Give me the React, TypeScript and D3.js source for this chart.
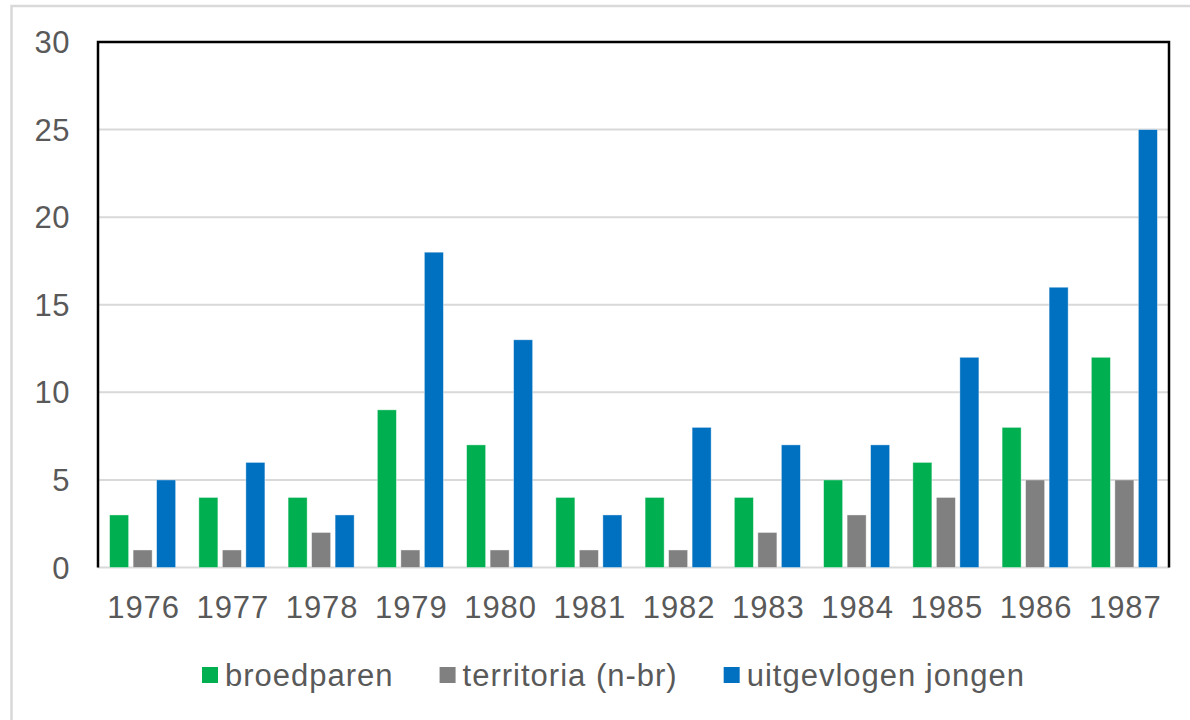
import React, { useEffect, useRef } from 'react';
import * as d3 from 'd3';

const years = ['1976', '1977', '1978', '1979', '1980', '1981', '1982', '1983', '1984', '1985', '1986', '1987'];
const seriesNames = ['broedparen', 'territoria (n-br)', 'uitgevlogen jongen'];
const broedparen = [3, 4, 4, 9, 7, 4, 4, 4, 5, 6, 8, 12];
const territoria = [1, 1, 2, 1, 1, 1, 1, 2, 3, 4, 5, 5];
const uitgevlogen = [5, 6, 3, 18, 13, 3, 8, 7, 7, 12, 16, 25];
const yTicks = [0, 5, 10, 15, 20, 25, 30];
const colors = ['#00B050', '#808080', '#0070C0'];

const App = () => {
  const svgRef = useRef<SVGSVGElement>(null);

  useEffect(() => {
    const svg = d3.select(svgRef.current);
    svg.selectAll('*').remove();

    const W = 1190, H = 720;
    const left = 98, right = 1169, top = 42, bottom = 567.5;
    const font = '"Liberation Sans", Arial, sans-serif';
    const textColor = '#595959';

    svg.append('rect').attr('width', W).attr('height', H).attr('fill', '#fff');
    // outer chart frame (cropped at right and bottom)
    svg.append('rect')
      .attr('x', 11.5).attr('y', 6).attr('width', 1200).attr('height', 730)
      .attr('fill', 'none').attr('stroke', '#d9d9d9').attr('stroke-width', 2.5);

    const x = d3.scaleBand().domain(years).range([left, right])
      .paddingInner(0.26).paddingOuter(0.13);
    const xs = d3.scaleBand().domain(seriesNames).range([0, x.bandwidth()])
      .paddingInner(0.19).paddingOuter(0);
    const y = d3.scaleLinear().domain([0, 30]).range([bottom, top]);

    // gridlines
    svg.append('g').selectAll('line')
      .data(yTicks.filter(t => t < 30))
      .enter().append('line')
      .attr('x1', left).attr('x2', right)
      .attr('y1', d => y(d)).attr('y2', d => y(d))
      .attr('stroke', '#d9d9d9').attr('stroke-width', 2);

    // plot border: left, top, right in black
    svg.append('path')
      .attr('d', `M${left},${bottom} V${top} H${right} V${bottom}`)
      .attr('fill', 'none').attr('stroke', '#000').attr('stroke-width', 2.5);

    const seriesData = [broedparen, territoria, uitgevlogen];
    seriesData.forEach((vals, si) => {
      svg.append('g').selectAll('rect')
        .data(vals)
        .enter().append('rect')
        .attr('x', (d, i) => (x(years[i]) as number) + (xs(seriesNames[si]) as number))
        .attr('y', d => y(d))
        .attr('width', xs.bandwidth())
        .attr('height', d => y(0) - y(d))
        .attr('fill', colors[si])
        .attr('stroke', 'rgba(255,255,255,0.5)')
        .attr('stroke-width', 0.8);
    });

    // y tick labels
    svg.append('g').selectAll('text')
      .data(yTicks)
      .enter().append('text')
      .attr('x', 70).attr('y', d => y(d))
      .attr('dy', '0.36em')
      .attr('text-anchor', 'end')
      .attr('font-family', font).attr('font-size', 31)
      .attr('letter-spacing', 0.5)
      .attr('fill', textColor)
      .text(d => d);

    // x tick labels
    svg.append('g').selectAll('text')
      .data(years)
      .enter().append('text')
      .attr('x', d => (x(d) as number) + x.bandwidth() / 2 + 1)
      .attr('y', 618)
      .attr('text-anchor', 'middle')
      .attr('font-family', font).attr('font-size', 31)
      .attr('letter-spacing', 1)
      .attr('fill', textColor)
      .text(d => d);

    // legend
    const legend = svg.append('g');
    let lx = 202;
    const ly = 675;
    seriesNames.forEach((name, i) => {
      legend.append('rect')
        .attr('x', lx).attr('y', ly - 8).attr('width', 16).attr('height', 16)
        .attr('fill', colors[i]);
      const t = legend.append('text')
        .attr('x', lx + 23).attr('y', ly).attr('dy', '0.36em')
        .attr('font-family', font).attr('font-size', 31)
        .attr('letter-spacing', 1)
        .attr('fill', textColor)
        .text(name);
      const len = (t.node() as SVGTextElement).getComputedTextLength();
      lx = lx + 23 + len + 46;
    });
  }, []);

  return (
    <svg ref={svgRef} width={1190} height={720}
      style={{ position: 'absolute', left: 0, top: 0, display: 'block' }} />
  );
};

export default App;
